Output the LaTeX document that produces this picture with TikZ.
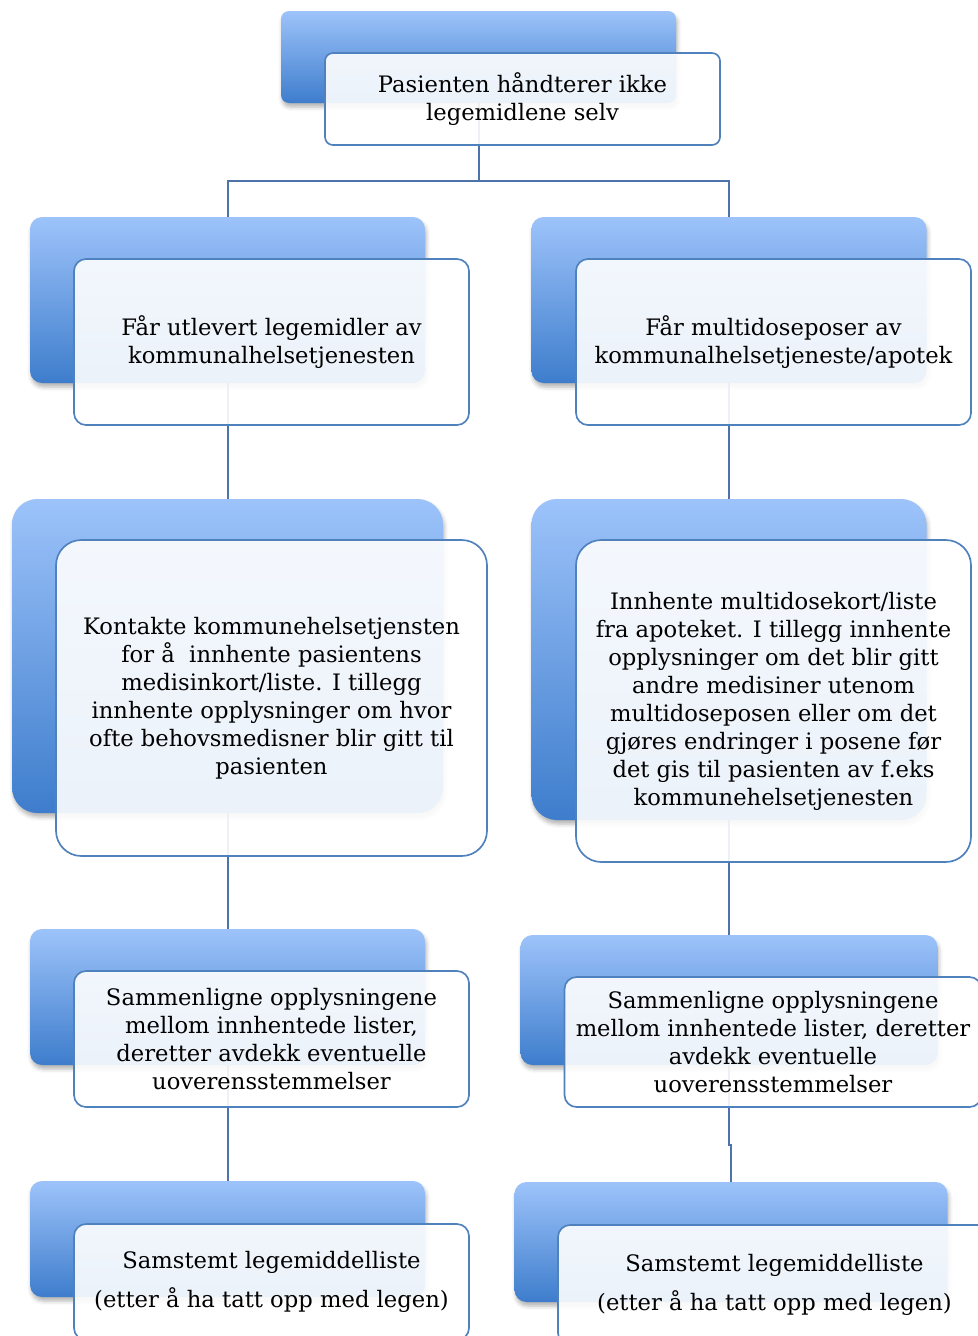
\documentclass[tikz,border=0pt]{standalone}
\usepackage{fontspec}
\setmainfont{DejaVu Serif}
\usetikzlibrary{backgrounds,shadows.blur}
\definecolor{backtop}{RGB}{157,195,250}
\definecolor{backbot}{RGB}{62,125,204}
\definecolor{frame}{RGB}{79,129,189}
\definecolor{link}{RGB}{77,115,170}
\begin{document}
\begin{tikzpicture}[x=0.75pt,y=-0.75pt,
  backbox/.style={rounded corners=9pt, top color=backtop, bottom color=backbot,
    draw=none, inner sep=0pt, outer sep=0pt,
    blur shadow={shadow xshift=1pt, shadow yshift=-3pt, shadow blur radius=3pt, shadow opacity=30}},
  frontbox/.style={rounded corners=9pt, draw=frame, line width=1.25pt, fill=white,
    fill opacity=0.9, text opacity=1, inner sep=0pt, outer sep=0pt, align=center,
    font=\fontsize{17}{21}\selectfont},
  link/.style={draw=link, line width=1.5pt}]
\useasboundingbox (0,0) rectangle (978,1336);
\clip (0,0) rectangle (978,1336);

% level 1
\node[backbox, rounded corners=6pt, minimum width=296.25pt, minimum height=69pt] (b0) at (478.5,57) {};
\node[frontbox, rounded corners=6pt, minimum width=296.25pt, minimum height=69pt] (f0) at (522.5,99)
  {Pasienten håndterer ikke\\legemidlene selv};

% level 2
\node[backbox, minimum width=296.25pt, minimum height=124.5pt] (b1) at (227.5,300) {};
\node[frontbox, minimum width=296.25pt, minimum height=124.5pt] (f1) at (271.5,342)
  {Får utlevert legemidler av\\kommunalhelsetjenesten};
\node[backbox, minimum width=296.25pt, minimum height=124.5pt] (b2) at (729,300) {};
\node[frontbox, minimum width=296.25pt, minimum height=124.5pt] (f2) at (773.5,342)
  {Får multidoseposer av\\kommunalhelsetjeneste/apotek};

% level 3
\node[backbox, rounded corners=19pt, minimum width=323.25pt, minimum height=235.5pt] (b3) at (227.5,656) {};
\node[frontbox, rounded corners=19pt, minimum width=323.25pt, minimum height=237pt] (f3) at (271.5,698)
  {Kontakte kommunehelsetjensten\\for å\ \ innhente pasientens\\medisinkort/liste. I tillegg\\innhente opplysninger om hvor\\ofte behovsmedisner blir gitt til\\pasienten};
\node[backbox, rounded corners=19pt, minimum width=296.25pt, minimum height=240.75pt] (b4) at (729,659.5) {};
\node[frontbox, rounded corners=19pt, minimum width=296.25pt, minimum height=241.5pt] (f4) at (773.5,701)
  {Innhente multidosekort/liste\\fra apoteket. I tillegg innhente\\opplysninger om det blir gitt\\andre medisiner utenom\\multidoseposen eller om det\\gjøres endringer i posene før\\det gis til pasienten av f.eks\\kommunehelsetjenesten};

% level 4
\node[backbox, minimum width=296.25pt, minimum height=102pt] (b5) at (227.5,997) {};
\node[frontbox, minimum width=296.25pt, minimum height=102pt] (f5) at (271.5,1039)
  {Sammenligne opplysningene\\mellom innhentede lister,\\deretter avdekk eventuelle\\uoverensstemmelser};
\node[backbox, minimum width=312.75pt, minimum height=97.5pt] (b6) at (729,1000) {};
\node[frontbox, minimum width=312.75pt, minimum height=97.5pt] (f6) at (773,1042)
  {Sammenligne opplysningene\\mellom innhentede lister, deretter\\avdekk eventuelle\\uoverensstemmelser};

% level 5
\node[backbox, minimum width=296.25pt, minimum height=87pt] (b7) at (227.5,1239) {};
\node[frontbox, minimum width=296.25pt, minimum height=87pt] (f7) at (271.5,1282)
  {Samstemt legemiddelliste\\[8pt](etter å ha tatt opp med legen)};
\node[backbox, minimum width=324.75pt, minimum height=90pt] (b8) at (731,1242) {};
\node[frontbox, minimum width=324.75pt, minimum height=90pt] (f8) at (774.5,1285)
  {Samstemt legemiddelliste\\[8pt](etter å ha tatt opp med legen)};

\begin{scope}[on background layer]
  \draw[link] (b0.south) -- ++(0,78) -| (b1.north);
  \draw[link] (b0.south) -- ++(0,78) -| (b2.north);
  \draw[link] (b1.south) -- (b3.north);
  \draw[link] (b3.south) -- (b5.north);
  \draw[link] (b5.south) -- (b7.north);
  \draw[link] (b2.south) -- (b4.north);
  \draw[link] (b4.south) -- (b6.north);
  \draw[link] (b6.south) -- ++(0,80) -| (b8.north);
\end{scope}
\end{tikzpicture}
\end{document}
